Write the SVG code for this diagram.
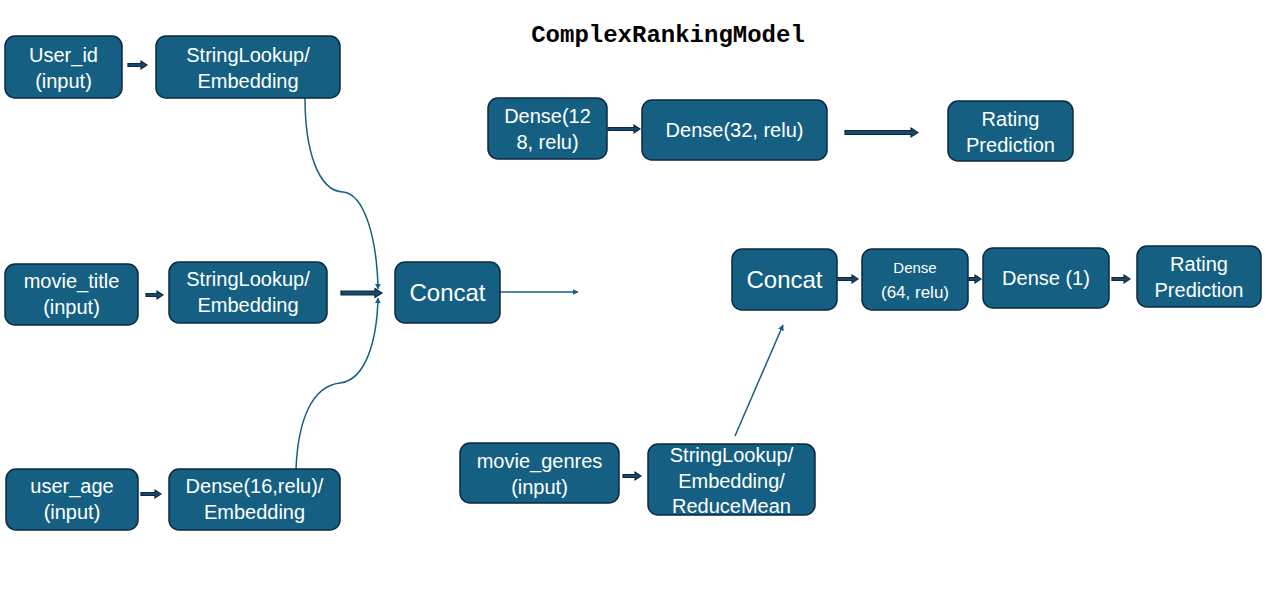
<svg xmlns="http://www.w3.org/2000/svg" width="1273" height="604" viewBox="0 0 1273 604">
<defs>
<style>
.n{fill:#156082;stroke:#0E2841;stroke-width:1.5}
.t{fill:#fff;font-family:"Liberation Sans",Arial,sans-serif;font-size:20px;text-anchor:middle}
.big{font-size:24px}
.sm{font-size:15px}
.md{font-size:17px}
.title{font-family:"Liberation Mono","Courier New",monospace;font-size:24px;font-weight:bold;fill:#000;text-anchor:middle}
.thin{fill:none;stroke:#156082;stroke-width:1.5}
.blk{fill:#174a68;stroke:#0E2841;stroke-width:1.2}
</style>
<marker id="ah" viewBox="0 0 10 10" refX="9" refY="5" markerWidth="6" markerHeight="6" orient="auto" markerUnits="userSpaceOnUse">
<path d="M0,0 L10,5 L0,10 Z" fill="#156082"/>
</marker>
</defs>
<rect width="1273" height="604" fill="#fff"/>
<text class="title" x="668" y="42">ComplexRankingModel</text>

<g id="connectors">
<path class="thin" d="M305,98 C305,150 318,191 343,192 C365,194 377,240 378,289" marker-end="url(#ah)"/>
<path class="thin" d="M296,469 C298,420 312,386 340,383 C366,380 377,340 378,298" marker-end="url(#ah)"/>
<path class="thin" d="M500,292 H578" marker-end="url(#ah)"/>
<path class="thin" d="M735,436 L783,325" marker-end="url(#ah)"/>
<path class="blk" d="M128,63.5 H141 V61 L147,65 L141,69 V66.5 H128 Z"/>
<path class="blk" d="M146,293.5 H157 V291 L163,295 L157,299 V296.5 H146 Z"/>
<path class="blk" d="M341,291 H375 V288.5 L382,293 L375,297.5 V295 H341 Z"/>
<path class="blk" d="M141,492.5 H155 V490 L161,494 L155,498 V495.5 H141 Z"/>
<path class="blk" d="M608,127.5 H634 V125 L640,129 L634,133 V130.5 H608 Z"/>
<path class="blk" d="M845,130.5 H911 V128 L918,132.5 L911,137 V134.5 H845 Z"/>
<path class="blk" d="M838,277.5 H852 V275 L858,279 L852,283 V280.5 H838 Z"/>
<path class="blk" d="M969,277.5 H975 V275 L981,279 L975,283 V280.5 H969 Z"/>
<path class="blk" d="M1112,277.5 H1124 V275 L1130,279 L1124,283 V280.5 H1112 Z"/>
<path class="blk" d="M623,474.5 H635 V472 L641,476 L635,480 V477.5 H623 Z"/>
</g>

<g id="user_id">
<rect class="n" x="5" y="36" width="117" height="62" rx="10"/>
<text class="t" x="63.5" y="62">User_id</text>
<text class="t" x="63.5" y="88">(input)</text>
</g>
<g id="lookup1">
<rect class="n" x="156" y="36" width="184" height="62" rx="10"/>
<text class="t" x="248" y="62">StringLookup/</text>
<text class="t" x="248" y="88">Embedding</text>
</g>
<g id="movie_title">
<rect class="n" x="5" y="264" width="133" height="61" rx="10"/>
<text class="t" x="71.5" y="288">movie_title</text>
<text class="t" x="71.5" y="314">(input)</text>
</g>
<g id="lookup2">
<rect class="n" x="169" y="262" width="158" height="61" rx="10"/>
<text class="t" x="248" y="286">StringLookup/</text>
<text class="t" x="248" y="312">Embedding</text>
</g>
<g id="user_age">
<rect class="n" x="6" y="469" width="132" height="61" rx="10"/>
<text class="t" x="72" y="493">user_age</text>
<text class="t" x="72" y="519">(input)</text>
</g>
<g id="dense16">
<rect class="n" x="169" y="469" width="171" height="61" rx="10"/>
<text class="t" x="254.5" y="493">Dense(16,relu)/</text>
<text class="t" x="254.5" y="519">Embedding</text>
</g>
<g id="concat1">
<rect class="n" x="395" y="262" width="105" height="61" rx="10"/>
<text class="t big" x="447.5" y="301">Concat</text>
</g>
<g id="dense128">
<rect class="n" x="488" y="98" width="119" height="61" rx="10"/>
<text class="t" x="547.5" y="123">Dense(12</text>
<text class="t" x="547.5" y="149">8, relu)</text>
</g>
<g id="dense32">
<rect class="n" x="642" y="100" width="185" height="60" rx="10"/>
<text class="t" x="734.5" y="137">Dense(32, relu)</text>
</g>
<g id="rating1">
<rect class="n" x="948" y="101" width="125" height="60" rx="10"/>
<text class="t" x="1010.5" y="126">Rating</text>
<text class="t" x="1010.5" y="152">Prediction</text>
</g>
<g id="concat2">
<rect class="n" x="732" y="249" width="105" height="61" rx="10"/>
<text class="t big" x="784.5" y="288">Concat</text>
</g>
<g id="dense64">
<rect class="n" x="862" y="249" width="106" height="61" rx="10"/>
<text class="t sm" x="915" y="273">Dense</text>
<text class="t md" x="915" y="298">(64, relu)</text>
</g>
<g id="dense1">
<rect class="n" x="983" y="248" width="126" height="60" rx="10"/>
<text class="t" x="1046" y="285">Dense (1)</text>
</g>
<g id="rating2">
<rect class="n" x="1137" y="246" width="124" height="61" rx="10"/>
<text class="t" x="1199" y="271">Rating</text>
<text class="t" x="1199" y="297">Prediction</text>
</g>
<g id="movie_genres">
<rect class="n" x="460" y="443" width="159" height="60" rx="10"/>
<text class="t" x="539.5" y="468">movie_genres</text>
<text class="t" x="539.5" y="494">(input)</text>
</g>
<g id="lookup3">
<rect class="n" x="648" y="444" width="167" height="71" rx="10"/>
<text class="t" x="731.5" y="462">StringLookup/</text>
<text class="t" x="731.5" y="488">Embedding/</text>
<text class="t" x="731.5" y="513">ReduceMean</text>
</g>
</svg>
